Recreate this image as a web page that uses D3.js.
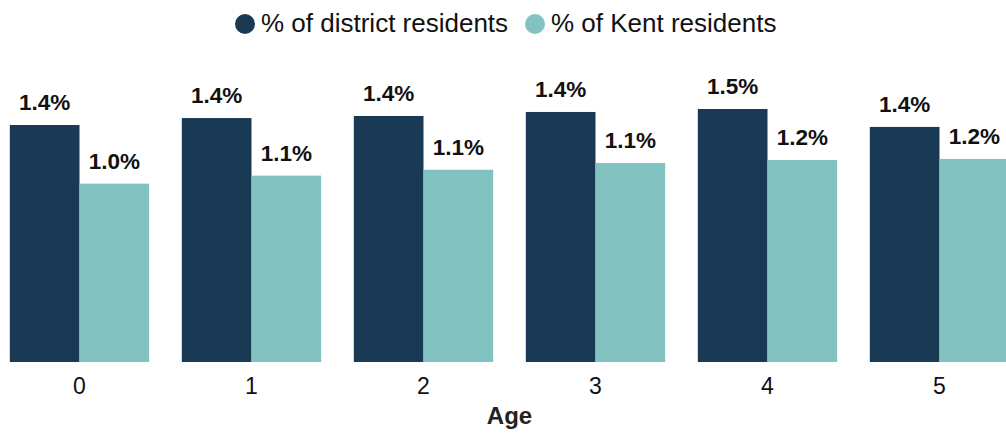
<!DOCTYPE html>
<html>
<head>
<meta charset="utf-8">
<script src="https://cdn.jsdelivr.net/npm/d3@7"></script>
<style>
  html, body { margin: 0; padding: 0; background: #fff; }
  svg { display: block; font-family: "Liberation Sans", Arial, sans-serif; }
</style>
</head>
<body>
<svg id="chart" width="1006" height="433"></svg>
<script>
const ages = ["0", "1", "2", "3", "4", "5"];
const seriesNames = ["% of district residents", "% of Kent residents"];
const districtValues = [1.362, 1.402, 1.414, 1.437, 1.454, 1.351];
const kentValues = [1.025, 1.071, 1.105, 1.144, 1.161, 1.167];
const seriesColors = ["#193954", "#82c3c1"];
const axisTitle = "Age";

const svg = d3.select("#chart");
const W = 1006, H = 433;
const baseline = 362;

const x0 = d3.scaleBand().domain(ages).range([-6.5, 1025.5]).paddingInner(0.19).paddingOuter(0.095);
const x1 = d3.scaleBand().domain(seriesNames).range([0, x0.bandwidth()]).padding(0);
const y = d3.scaleLinear().domain([0, 1.5]).range([baseline, baseline - 261]);
const color = d3.scaleOrdinal().domain(seriesNames).range(seriesColors);

const rows = ages.map((a, i) => ({ age: a, values: [
  { name: seriesNames[0], v: districtValues[i] },
  { name: seriesNames[1], v: kentValues[i] }
]}));

const groups = svg.append("g").selectAll("g").data(rows).join("g")
  .attr("transform", d => `translate(${x0(d.age)},0)`);

groups.selectAll("rect").data(d => d.values).join("rect")
  .attr("x", d => x1(d.name))
  .attr("y", d => y(d.v))
  .attr("width", x1.bandwidth())
  .attr("height", d => y(0) - y(d.v))
  .attr("fill", d => color(d.name));

groups.selectAll("text.val").data(d => d.values).join("text")
  .attr("class", "val")
  .attr("x", d => x1(d.name) + x1.bandwidth() / 2)
  .attr("y", d => y(d.v) - 15)
  .attr("text-anchor", "middle")
  .attr("font-size", 22.5)
  .attr("font-weight", "bold")
  .attr("fill", "#111")
  .text(d => d.v.toFixed(1) + "%");

// x axis
const xAxis = d3.axisBottom(x0).tickSize(0).tickPadding(0);
const ax = svg.append("g").attr("transform", `translate(0,${baseline})`).call(xAxis);
ax.select(".domain").remove();
ax.selectAll("text")
  .attr("font-size", 23)
  .attr("font-family", "Liberation Sans, Arial, sans-serif")
  .attr("fill", "#111")
  .attr("dy", null)
  .attr("y", 32);

svg.append("text")
  .attr("x", (x0.range()[0] + x0.range()[1]) / 2)
  .attr("y", 424)
  .attr("text-anchor", "middle")
  .attr("font-size", 24)
  .attr("font-weight", "bold")
  .attr("fill", "#222")
  .text(axisTitle);

// legend
const legend = svg.append("g");
const legendX = [245, 535];
seriesNames.forEach((name, i) => {
  const g = legend.append("g").attr("transform", `translate(${legendX[i]},24)`);
  g.append("circle").attr("r", 10).attr("fill", color(name));
  g.append("text").attr("x", 16).attr("y", 8)
    .attr("font-size", 26)
    .attr("fill", "#111")
    .text(name);
});
</script>
</body>
</html>
